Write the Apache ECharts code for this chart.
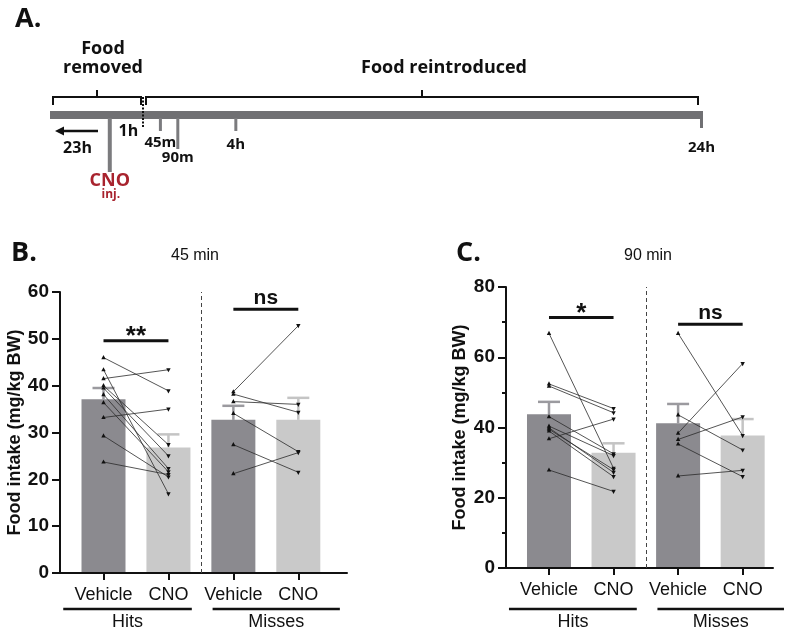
<!DOCTYPE html>
<html>
<head>
<meta charset="utf-8">
<script src="https://cdn.jsdelivr.net/npm/echarts@6/dist/echarts.min.js"></script>
<style>
html, body { margin: 0; padding: 0; background: #fff; }
#chart { width: 790px; height: 632px; }
</style>
</head>
<body>
<div id="chart"></div>
<script>
// ---- panel A: timeline (hours relative to food reintroduction)
var eventNames = ['CNO', '45m', '90m', '4h', '24h'];
var eventNotes = ['inj.', '', '', '', ''];
var eventHours = [-1, 0.75, 1.5, 4, 24];
var phaseNames = ['Food\nremoved', 'Food reintroduced'];
var phaseFrom = [-24, 0];
var phaseTo = [0, 24];
var gapLabels = ['23h', '1h'];

// ---- panels B / C
var conditions = ['Vehicle', 'CNO', 'Vehicle', 'CNO'];
var groups = ['Hits', 'Misses'];

var mean45 = [37.1, 26.8, 32.7, 32.7];
var sem45 = [2.4, 2.8, 3.0, 4.7];
var hits45Veh = [46.0, 43.4, 41.5, 40.0, 39.5, 38.1, 36.4, 33.2, 29.3, 23.7];
var hits45Cno = [38.9, 16.9, 43.4, 27.4, 25.0, 22.3, 21.6, 35.0, 20.5, 21.0];
var miss45Veh = [38.7, 38.2, 36.6, 34.1, 27.4, 21.2];
var miss45Cno = [52.8, 34.3, 36.0, 25.9, 21.5, 25.7];
var sig45 = ['**', 'ns'];
var sig45Y = [49.6, 56.3];

var mean90 = [43.8, 32.8, 41.2, 37.7];
var sem90 = [3.5, 2.7, 5.5, 4.7];
var hits90Veh = [66.8, 52.4, 51.8, 43.1, 40.4, 39.9, 39.5, 39.0, 36.8, 27.9];
var hits90Cno = [28.4, 45.4, 44.2, 32.5, 32.0, 27.2, 28.0, 26.0, 42.4, 21.8];
var miss90Veh = [66.8, 43.6, 38.4, 36.6, 35.3, 26.2];
var miss90Cno = [37.7, 33.6, 58.2, 43.0, 26.0, 27.8];
var sig90 = ['*', 'ns'];
var sig90Y = [71.3, 69.4];

var vehColor = '#8b8a8f', cnoColor = '#c9c9c9';
var vehErr = '#9b9a9f', cnoErr = '#c4c4c4';
var ink = '#111';
var barGray = '#707073';
var fontA = '"Open Sans", "Noto Sans", sans-serif';
var fontB = '"Liberation Sans", Arial, sans-serif';

var chart = echarts.init(document.getElementById('chart'));

// timeline: axis 0 = before food returns (broken scale), axis 3 = after
var tickLen = [53, 12, 30, 12, 9];
var labelGap = [9, 12, 9, 14, 20];
var phaseLabelDx = [6, 22];

function timelineEvents(ax, before) {
  var rows = [];
  eventHours.forEach(function (h, i) { if ((h < 0) === before) rows.push([h, i]); });
  return {
    type: 'custom', xAxisIndex: ax, yAxisIndex: ax, silent: true, z: 3,
    data: rows,
    renderItem: function (params, api) {
      var i = api.value(1);
      var p = api.coord([api.value(0), 0]);
      var last = i === eventNames.length - 1;
      var x = last ? p[0] + 1.5 : p[0];
      var y1 = p[1] + 4, y2 = y1 + tickLen[i];
      var red = i === 0;
      var kids = [
        { type: 'line', shape: { x1: x, y1: last ? y1 - 6 : y1 - 1, x2: x, y2: y2 },
          style: { stroke: last ? barGray : '#7b7b7e', lineWidth: red ? 4 : 3 } },
        { type: 'text', style: { text: eventNames[i], x: x, y: y2 + labelGap[i],
          fill: red ? '#a8232e' : ink, font: 'bold ' + (red ? 18 : 15) + 'px ' + fontA,
          align: 'center', verticalAlign: 'middle' } }
      ];
      if (eventNotes[i]) {
        kids.push({ type: 'text', style: { text: eventNotes[i], x: x + 1, y: y2 + labelGap[i] + 14,
          fill: '#a8232e', font: 'bold 12px ' + fontA, align: 'center', verticalAlign: 'middle' } });
      }
      return { type: 'group', children: kids };
    }
  };
}

function timelinePhase(i, ax) {
  return {
    type: 'custom', xAxisIndex: ax, yAxisIndex: ax, silent: true, z: 2,
    data: [[phaseFrom[i], phaseTo[i]]],
    renderItem: function (params, api) {
      var cs = params.coordSys;
      var a = api.coord([api.value(0), 0]), b = api.coord([api.value(1), 0]);
      var left = Math.max(a[0], cs.x), right = Math.min(b[0], cs.x + cs.width);
      var x1 = left + 3, x2 = right - 2, y = a[1] - 18, mid = (x1 + x2) / 2;
      var kids = [
        // grey time bar for this phase
        { type: 'rect', shape: { x: left, y: a[1] - 4, width: right - left + (i === 1 ? 3 : 0), height: 8 },
          style: { fill: barGray } },
        { type: 'polyline', shape: { points: [[x1, y + 8], [x1, y], [x2, y], [x2, y + 8]] },
          style: { stroke: ink, lineWidth: 2, fill: null } },
        { type: 'line', shape: { x1: mid, y1: y, x2: mid, y2: y - 7 }, style: { stroke: ink, lineWidth: 2 } },
        { type: 'text', style: { text: phaseNames[i], x: mid + phaseLabelDx[i], y: y - 20,
          fill: ink, font: 'bold 18px ' + fontA, align: 'center', verticalAlign: 'bottom', lineHeight: 19 } }
      ];
      if (i === 0) {
        // arrow back in time, with its gap label
        var ay = a[1] + 16, ax1 = mid + 1, ax2 = x1 + 2;
        kids.push({ type: 'line', shape: { x1: ax1, y1: ay, x2: ax2 + 6, y2: ay }, style: { stroke: ink, lineWidth: 2.5 } });
        kids.push({ type: 'polygon', shape: { points: [[ax2, ay], [ax2 + 9, ay - 4.5], [ax2 + 9, ay + 4.5]] }, style: { fill: ink } });
        kids.push({ type: 'text', style: { text: gapLabels[0], x: (ax1 + ax2) / 2 + 1, y: ay + 17,
          fill: ink, font: 'bold 16px ' + fontA, align: 'center', verticalAlign: 'middle' } });
        var c = api.coord([eventHours[0] / 2, 0]);
        kids.push({ type: 'text', style: { text: gapLabels[1], x: c[0] + 2, y: c[1] + 16,
          fill: ink, font: 'bold 16px ' + fontA, align: 'center', verticalAlign: 'middle' } });
      } else {
        // dotted marker at food reintroduction
        kids.push({ type: 'line', shape: { x1: a[0], y1: y, x2: a[0], y2: a[1] + 12 },
          style: { stroke: ink, lineWidth: 2, lineDash: [2, 1.5] } });
      }
      return { type: 'group', children: kids };
    }
  };
}

// bar + SEM
function barSeries(means, sems, ax) {
  return {
    type: 'custom', xAxisIndex: ax, yAxisIndex: ax, silent: true, z: 2,
    data: means.map(function (m, i) { return [i + 1, m, sems[i]]; }),
    encode: { x: 0, y: 1 },
    renderItem: function (params, api) {
      var x = api.value(0), m = api.value(1), s = api.value(2);
      var base = api.coord([x, 0]), top = api.coord([x, m]), cap = api.coord([x, m + s]);
      var veh = params.dataIndex % 2 === 0;
      var err = veh ? vehErr : cnoErr;
      return { type: 'group', children: [
        { type: 'line', shape: { x1: top[0], y1: top[1], x2: cap[0], y2: cap[1] }, style: { stroke: err, lineWidth: 2.5 } },
        { type: 'line', shape: { x1: cap[0] - 11, y1: cap[1], x2: cap[0] + 11, y2: cap[1] }, style: { stroke: err, lineWidth: 2.5 } },
        { type: 'rect', shape: { x: base[0] - 22, y: top[1], width: 44, height: base[1] - top[1] - 1 },
          style: { fill: veh ? vehColor : cnoColor } }
      ] };
    },
    markLine: {
      silent: true, symbol: 'none', label: { show: false },
      lineStyle: { color: '#444', width: 1, type: [4, 3] },
      data: [{ xAxis: 2.5 }]
    }
  };
}

// paired subjects
function pairSeries(veh, cno, g, ax) {
  return {
    type: 'custom', xAxisIndex: ax, yAxisIndex: ax, silent: true, z: 5,
    data: veh.map(function (v, i) { return [g * 2 + 1, v, cno[i]]; }),
    encode: { x: 0, y: [1, 2] },
    renderItem: function (params, api) {
      var x = api.value(0);
      var p = api.coord([x, api.value(1)]), q = api.coord([x + 1, api.value(2)]);
      return { type: 'group', children: [
        { type: 'line', shape: { x1: p[0], y1: p[1], x2: q[0], y2: q[1] }, style: { stroke: '#2a2a2a', lineWidth: 0.8 } },
        { type: 'polygon', shape: { points: [[p[0], p[1] - 2.6], [p[0] - 2.2, p[1] + 1.6], [p[0] + 2.2, p[1] + 1.6]] }, style: { fill: '#111' } },
        { type: 'polygon', shape: { points: [[q[0], q[1] + 2.6], [q[0] - 2.2, q[1] - 1.6], [q[0] + 2.2, q[1] - 1.6]] }, style: { fill: '#111' } }
      ] };
    }
  };
}

// significance brackets
function sigSeries(labels, ys, ax) {
  return {
    type: 'custom', xAxisIndex: ax, yAxisIndex: ax, silent: true, z: 5,
    data: ys.map(function (y, g) { return [g * 2 + 1, y]; }),
    encode: { x: 0, y: 1 },
    renderItem: function (params, api) {
      var x = api.value(0), y = api.value(1);
      var a = api.coord([x, y]), b = api.coord([x + 1, y]);
      var t = labels[params.dataIndex];
      var star = t.indexOf('*') >= 0;
      return { type: 'group', children: [
        { type: 'line', shape: { x1: a[0], y1: a[1], x2: b[0], y2: b[1] }, style: { stroke: ink, lineWidth: 3 } },
        { type: 'text', style: { text: t, x: (a[0] + b[0]) / 2, y: star ? a[1] - 4 : a[1] - 1,
          fill: ink, font: 'bold ' + (star ? 26 : 21) + 'px ' + fontB,
          align: 'center', verticalAlign: star ? 'middle' : 'bottom' } }
      ] };
    }
  };
}

// group underline + name below the axis
var underL = [-0.62, -0.32];
var underR = [0.36, 0.64];
function groupSeries(ax) {
  return {
    type: 'custom', xAxisIndex: ax, yAxisIndex: ax, silent: true,
    data: groups.map(function (n, g) { return [g * 2 + 1, 0]; }),
    encode: { x: 0, y: 1 },
    renderItem: function (params, api) {
      var g = params.dataIndex, x = api.value(0);
      var a = api.coord([x + underL[g], 0]), b = api.coord([x + 1 + underR[g], 0]);
      var y = 609;
      return { type: 'group', children: [
        { type: 'line', shape: { x1: a[0], y1: y, x2: b[0], y2: y }, style: { stroke: ink, lineWidth: 2.5 } },
        { type: 'text', style: { text: groups[g], x: (a[0] + b[0]) / 2, y: y + 13,
          fill: ink, font: '18px ' + fontB, align: 'center', verticalAlign: 'middle' } }
      ] };
    }
  };
}

function xAxisFor(grid, min, max) {
  return {
    gridIndex: grid, type: 'value', min: min, max: max,
    axisLine: { show: true, onZero: false, lineStyle: { color: ink, width: 2 } },
    axisTick: { show: true, customValues: [1, 2, 3, 4], length: 7, lineStyle: { color: ink, width: 2 } },
    axisLabel: { customValues: [1, 2, 3, 4], margin: 13, color: ink, fontSize: 18, fontFamily: fontB,
      formatter: function (v) { return conditions[Math.round(v) - 1]; } },
    splitLine: { show: false }
  };
}

function yAxisFor(grid, max, interval, gap, minor) {
  return {
    gridIndex: grid, type: 'value', min: 0, max: max, interval: interval,
    name: 'Food intake (mg/kg BW)', nameLocation: 'middle', nameGap: gap,
    nameTextStyle: { color: ink, fontSize: 18, fontWeight: 'bold', fontFamily: fontB },
    axisLine: { show: true, lineStyle: { color: ink, width: 2 } },
    axisTick: { show: true, length: 8, lineStyle: { color: ink, width: 2 } },
    minorTick: { show: minor, splitNumber: 2, length: 4, lineStyle: { color: ink, width: 2 } },
    axisLabel: { color: ink, fontSize: 19, fontWeight: 'bold', fontFamily: fontB, margin: 11 },
    splitLine: { show: false }, minorSplitLine: { show: false }
  };
}

var option = {
  backgroundColor: '#fff',
  animation: false,
  grid: [
    { left: 50, top: 15, width: 93, height: 200, outerBoundsMode: 'none' },
    { left: 60, top: 292, width: 287, height: 281, outerBoundsMode: 'none' },
    { left: 506, top: 287, width: 267, height: 281, outerBoundsMode: 'none' },
    { left: 143, top: 15, width: 557, height: 200, outerBoundsMode: 'none' }
  ],
  xAxis: [
    { gridIndex: 0, type: 'value', min: -2.8, max: 0, show: false },
    xAxisFor(1, 0.33, 4.75),
    xAxisFor(2, 0.334, 4.47),
    { gridIndex: 3, type: 'value', min: 0, max: 24, show: false }
  ],
  yAxis: [
    { gridIndex: 0, type: 'value', min: -1, max: 1, show: false },
    yAxisFor(1, 60, 10, 31, false),
    yAxisFor(2, 80, 20, 37, true),
    { gridIndex: 3, type: 'value', min: -1, max: 1, show: false }
  ],
  graphic: [
    { type: 'text', left: 15, top: 6, style: { text: 'A.', fill: ink, font: 'bold 27px ' + fontA } },
    { type: 'text', left: 11, top: 240, style: { text: 'B.', fill: ink, font: 'bold 27px ' + fontA } },
    { type: 'text', left: 456, top: 240, style: { text: 'C.', fill: ink, font: 'bold 27px ' + fontA } },
    { type: 'text', x: 195, y: 256, style: { text: '45 min', fill: ink, font: '16px ' + fontB, align: 'center', verticalAlign: 'middle' } },
    { type: 'text', x: 648, y: 256, style: { text: '90 min', fill: ink, font: '16px ' + fontB, align: 'center', verticalAlign: 'middle' } }
  ],
  series: [
    timelinePhase(0, 0), timelinePhase(1, 3),
    timelineEvents(0, true), timelineEvents(3, false),
    barSeries(mean45, sem45, 1),
    pairSeries(hits45Veh, hits45Cno, 0, 1),
    pairSeries(miss45Veh, miss45Cno, 1, 1),
    sigSeries(sig45, sig45Y, 1),
    groupSeries(1),
    barSeries(mean90, sem90, 2),
    pairSeries(hits90Veh, hits90Cno, 0, 2),
    pairSeries(miss90Veh, miss90Cno, 1, 2),
    sigSeries(sig90, sig90Y, 2),
    groupSeries(2)
  ]
};
chart.setOption(option);
window.onresize = chart.resize;
</script>
</body>
</html>
